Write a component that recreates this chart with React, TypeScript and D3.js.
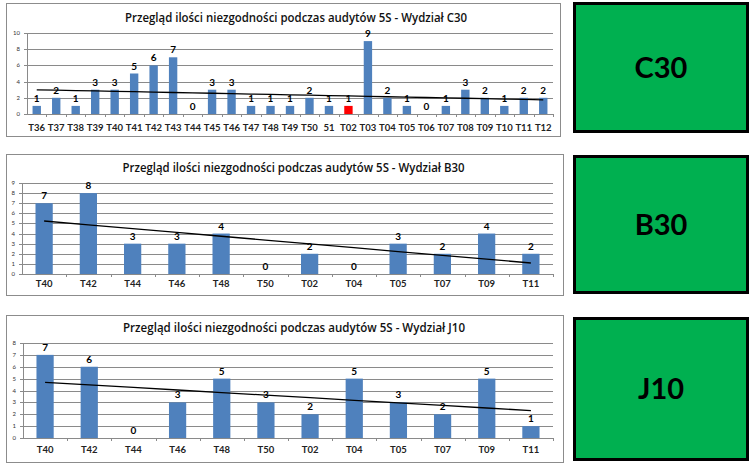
import React from "react";
import * as d3 from "d3";

const catsC30 = ["T36","T37","T38","T39","T40","T41","T42","T43","T44","T45","T46","T47","T48","T49","T50","51","T02","T03","T04","T05","T06","T07","T08","T09","T10","T11","T12"];
const valsC30 = [1,2,1,3,3,5,6,7,0,3,3,1,1,1,2,1,1,9,2,1,0,1,3,2,1,2,2];
const redIndexC30 = [16];

const catsB30 = ["T40","T42","T44","T46","T48","T50","T02","T04","T05","T07","T09","T11"];
const valsB30 = [7,8,3,3,4,0,2,0,3,2,4,2];

const catsJ10 = ["T40","T42","T44","T46","T48","T50","T02","T04","T05","T07","T09","T11"];
const valsJ10 = [7,6,0,3,5,3,2,5,3,2,5,1];

const titles = [
  "Przegląd ilości niezgodności podczas audytów 5S - Wydział C30",
  "Przegląd ilości niezgodności podczas audytów 5S - Wydział B30",
  "Przegląd ilości niezgodności podczas audytów 5S - Wydział J10",
];
const boxLabels = ["C30", "B30", "J10"];

const FONT = "Lato, 'Open Sans', sans-serif";
const TITLE_FONT = "'Open Sans', Lato, sans-serif";

type Cfg = {
  frame: { x: number; y: number; w: number; h: number };
  x0: number; x1: number; yTop: number; yBot: number;
  yMax: number; step: number; titleY: number; catY: number;
  pad: number;
};

function regression(vals: number[]) {
  const xs = vals.map((_, i) => i + 1);
  const mx = d3.mean(xs)!;
  const my = d3.mean(vals)!;
  let sxy = 0, sxx = 0;
  xs.forEach((x, i) => { sxy += (x - mx) * (vals[i] - my); sxx += (x - mx) * (x - mx); });
  const b = sxy / sxx;
  const a = my - b * mx;
  return (i: number) => a + b * (i + 1);
}

function Chart({ cats, vals, title, cfg, red = [] as number[] }: { cats: string[]; vals: number[]; title: string; cfg: Cfg; red?: number[] }) {
  const x = d3.scaleBand<string>().domain(cats.map((c, i) => i + "")).range([cfg.x0, cfg.x1]).paddingInner(cfg.pad).paddingOuter(cfg.pad / 2);
  const xb = d3.scaleBand<string>().domain(cats.map((c, i) => i + "")).range([cfg.x0, cfg.x1]);
  const y = d3.scaleLinear().domain([0, cfg.yMax]).range([cfg.yBot, cfg.yTop]);
  const ticks = d3.range(0, cfg.yMax + 0.001, cfg.step);
  const trend = regression(vals);
  const line = d3.line<number>().x((_, i) => xb(i + "")! + xb.bandwidth() / 2).y((_, i) => y(trend(i)));
  const f = cfg.frame;
  return (
    <g>
      <rect x={f.x + 0.5} y={f.y + 0.5} width={f.w} height={f.h} fill="#fff" stroke="#8c8c8c" strokeWidth={1} />
      <text x={(cfg.x0 + cfg.x1) / 2 + 6} y={cfg.titleY} textAnchor="middle" fontFamily={TITLE_FONT} fontWeight={600} fontSize={12.5} fill="#111" textLength={342} lengthAdjust="spacingAndGlyphs">{title}</text>
      {ticks.map((t) => (
        <g key={t}>
          {t > 0 && <line x1={cfg.x0} x2={cfg.x1} y1={Math.round(y(t)) + 0.5} y2={Math.round(y(t)) + 0.5} stroke="#8a8a8a" strokeWidth={1} />}
          <line x1={cfg.x0 - 3} x2={cfg.x0} y1={Math.round(y(t)) + 0.5} y2={Math.round(y(t)) + 0.5} stroke="#8a8a8a" />
          <text x={cfg.x0 - 7} y={y(t) + 2} textAnchor="end" fontFamily={FONT} fontSize={6} fill="#333">{t}</text>
        </g>
      ))}
      <line x1={cfg.x0 + 0.5} x2={cfg.x0 + 0.5} y1={cfg.yTop} y2={cfg.yBot} stroke="#8a8a8a" />
      <line x1={cfg.x0} x2={cfg.x1} y1={Math.round(cfg.yBot) + 0.5} y2={Math.round(cfg.yBot) + 0.5} stroke="#8a8a8a" />
      {cats.map((c, i) => (
        <line key={"t" + i} x1={Math.round(xb(i + "")! + xb.bandwidth()) + 0.5} x2={Math.round(xb(i + "")! + xb.bandwidth()) + 0.5} y1={cfg.yBot} y2={cfg.yBot + 3} stroke="#8a8a8a" />
      ))}
      {vals.map((v, i) => (
        <rect key={"b" + i} x={x(i + "")!} y={y(v)} width={x.bandwidth()} height={cfg.yBot - y(v)} fill={red.includes(i) ? "#ff0000" : "#4f81bd"} />
      ))}
      <path d={line(vals)!} fill="none" stroke="#000" strokeWidth={1.3} />
      {vals.map((v, i) => (
        <text key={"l" + i} x={xb(i + "")! + xb.bandwidth() / 2} y={y(v) - 4} textAnchor="middle" fontFamily={FONT} fontWeight="bold" fontSize={10} fill="#000">{v}</text>
      ))}
      {cats.map((c, i) => (
        <text key={"c" + i} x={xb(i + "")! + xb.bandwidth() / 2} y={cfg.catY} textAnchor="middle" fontFamily={FONT} fontWeight="bold" fontSize={9.5} fill="#222">{c}</text>
      ))}
    </g>
  );
}

const cfgs: Cfg[] = [
  { frame: { x: 6, y: 3, w: 554, h: 133 }, x0: 27, x1: 553, yTop: 33, yBot: 114, yMax: 10, step: 2, titleY: 22, catY: 131, pad: 0.57 },
  { frame: { x: 6, y: 154, w: 557, h: 141 }, x0: 22, x1: 553, yTop: 183, yBot: 274, yMax: 9, step: 1, titleY: 172, catY: 287, pad: 0.61 },
  { frame: { x: 6, y: 315, w: 557, h: 147 }, x0: 23, x1: 553, yTop: 343, yBot: 438, yMax: 8, step: 1, titleY: 332, catY: 453, pad: 0.61 },
];

const boxes = [
  { y: 2, h: 131 },
  { y: 155, h: 139 },
  { y: 317, h: 144 },
];

export default function App() {
  const data = [
    { cats: catsC30, vals: valsC30, red: redIndexC30 },
    { cats: catsB30, vals: valsB30, red: [] },
    { cats: catsJ10, vals: valsJ10, red: [] },
  ];
  return (
    <div style={{ position: "absolute", left: 0, top: 0 }}>
      <svg width={755} height={466} style={{ display: "block", background: "#fff" }}>
        {data.map((d, i) => (
          <Chart key={i} cats={d.cats} vals={d.vals} red={d.red} title={titles[i]} cfg={cfgs[i]} />
        ))}
        {boxes.map((b, i) => (
          <g key={"g" + i}>
            <rect x={574.5} y={b.y + 1.5} width={173} height={b.h - 3} fill="#00b050" stroke="#000" strokeWidth={3} />
            <text x={661} y={b.y + b.h / 2 + 10} textAnchor="middle" fontFamily={FONT} fontWeight="bold" fontSize={29} fill="#000">{boxLabels[i]}</text>
          </g>
        ))}
      </svg>
    </div>
  );
}
